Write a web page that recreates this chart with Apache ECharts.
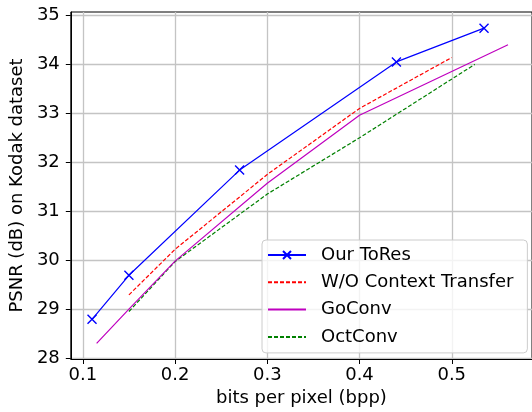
<!DOCTYPE html>
<html><head><meta charset="utf-8">
<script src="https://cdn.jsdelivr.net/npm/echarts@6/dist/echarts.min.js"></script>
<style>html,body{margin:0;padding:0;background:#fff}#c{width:532px;height:412px}</style>
</head><body><div id="c"></div><script>
const seriesNames = ['Our ToRes', 'W/O Context Transfer', 'GoConv', 'OctConv'];
const toresBpp = [0.110, 0.150, 0.270, 0.440, 0.535];
const toresPsnr = [28.79, 29.69, 31.84, 34.05, 34.74];
const woctBpp = [0.150, 0.200, 0.300, 0.400, 0.500];
const woctPsnr = [29.29, 30.22, 31.75, 33.10, 34.14];
const goconvBpp = [0.115, 0.150, 0.200, 0.300, 0.400, 0.561];
const goconvPsnr = [28.30, 29.00, 29.98, 31.57, 32.96, 34.40];
const octconvBpp = [0.150, 0.200, 0.300, 0.400, 0.525];
const octconvPsnr = [28.95, 29.97, 31.35, 32.50, 34.00];
const xTicks = [0.1, 0.2, 0.3, 0.4, 0.5];
const yTicks = [28, 29, 30, 31, 32, 33, 34, 35];
const xName = 'bits per pixel (bpp)';
const yName = 'PSNR (dB) on Kodak dataset';

const zip = (xs, ys) => xs.map((x, i) => [x, ys[i]]);
const FONT = 'DejaVu Sans';
const chart = echarts.init(document.getElementById('c'), null, {renderer: 'canvas'});
const gridLine = {show: true, lineStyle: {color: '#c4c4c4', width: 1.3}};
const xMarker = 'path://M0,0L10,10M10,0L0,10';
const noMarker = {color: 'transparent', borderWidth: 0};
chart.setOption({
  animation: false,
  backgroundColor: '#fff',
  textStyle: {fontFamily: FONT},
  grid: {left: 67, top: 12, right: -8, bottom: 51, show: true, borderColor: '#000', borderWidth: 1, backgroundColor: 'transparent'},
  xAxis: {
    type: 'value', min: 0.087, max: 0.587,
    name: xName, nameLocation: 'middle', nameGap: 30,
    nameTextStyle: {fontSize: 18, color: '#000', fontFamily: FONT},
    axisLine: {show: true, onZero: false, lineStyle: {color: '#000', width: 1}},
    axisTick: {show: true, length: 5, inside: false, customValues: xTicks, lineStyle: {color: '#000'}},
    axisLabel: {customValues: xTicks, fontSize: 18, color: '#000', margin: 7, fontFamily: FONT},
    splitLine: gridLine
  },
  yAxis: {
    type: 'value', min: 27.98, max: 35.07,
    name: yName, nameLocation: 'middle', nameGap: 33,
    nameTextStyle: {fontSize: 18, color: '#000', fontFamily: FONT},
    axisLine: {show: true, onZero: false, lineStyle: {color: '#000', width: 1}},
    axisTick: {show: true, length: 5, inside: false, customValues: yTicks, lineStyle: {color: '#000'}},
    axisLabel: {customValues: yTicks, fontSize: 18, color: '#000', margin: 11, fontFamily: FONT},
    splitLine: gridLine
  },
  legend: {
    orient: 'vertical', left: 262, top: 240,
    padding: [6, 14, 7, 5],
    itemWidth: 38, itemHeight: 10, itemGap: 9.3,
    backgroundColor: 'rgba(255,255,255,0.8)', borderColor: '#cccccc', borderWidth: 1, borderRadius: 4,
    textStyle: {fontSize: 18, color: '#000', fontFamily: FONT, lineHeight: 18, padding: [0, 0, 0, 10]},
    data: seriesNames
  },
  series: [
    {name: seriesNames[0], type: 'line', data: zip(toresBpp, toresPsnr), symbol: xMarker, symbolSize: 9,
     lineStyle: {color: '#0000ff', width: 1.2}, itemStyle: {color: '#0000ff', borderColor: '#0000ff', borderWidth: 1.4}, z: 5},
    {name: seriesNames[1], type: 'line', data: zip(woctBpp, woctPsnr), symbol: 'none',
     lineStyle: {color: '#ff0000', width: 1.2, type: [4, 2]}, itemStyle: noMarker, z: 4},
    {name: seriesNames[2], type: 'line', data: zip(goconvBpp, goconvPsnr), symbol: 'none',
     lineStyle: {color: '#bf00bf', width: 1.2}, itemStyle: noMarker, z: 3},
    {name: seriesNames[3], type: 'line', data: zip(octconvBpp, octconvPsnr), symbol: 'none',
     lineStyle: {color: '#008000', width: 1.2, type: [4, 2]}, itemStyle: noMarker, z: 2}
  ]
});
</script></body></html>
